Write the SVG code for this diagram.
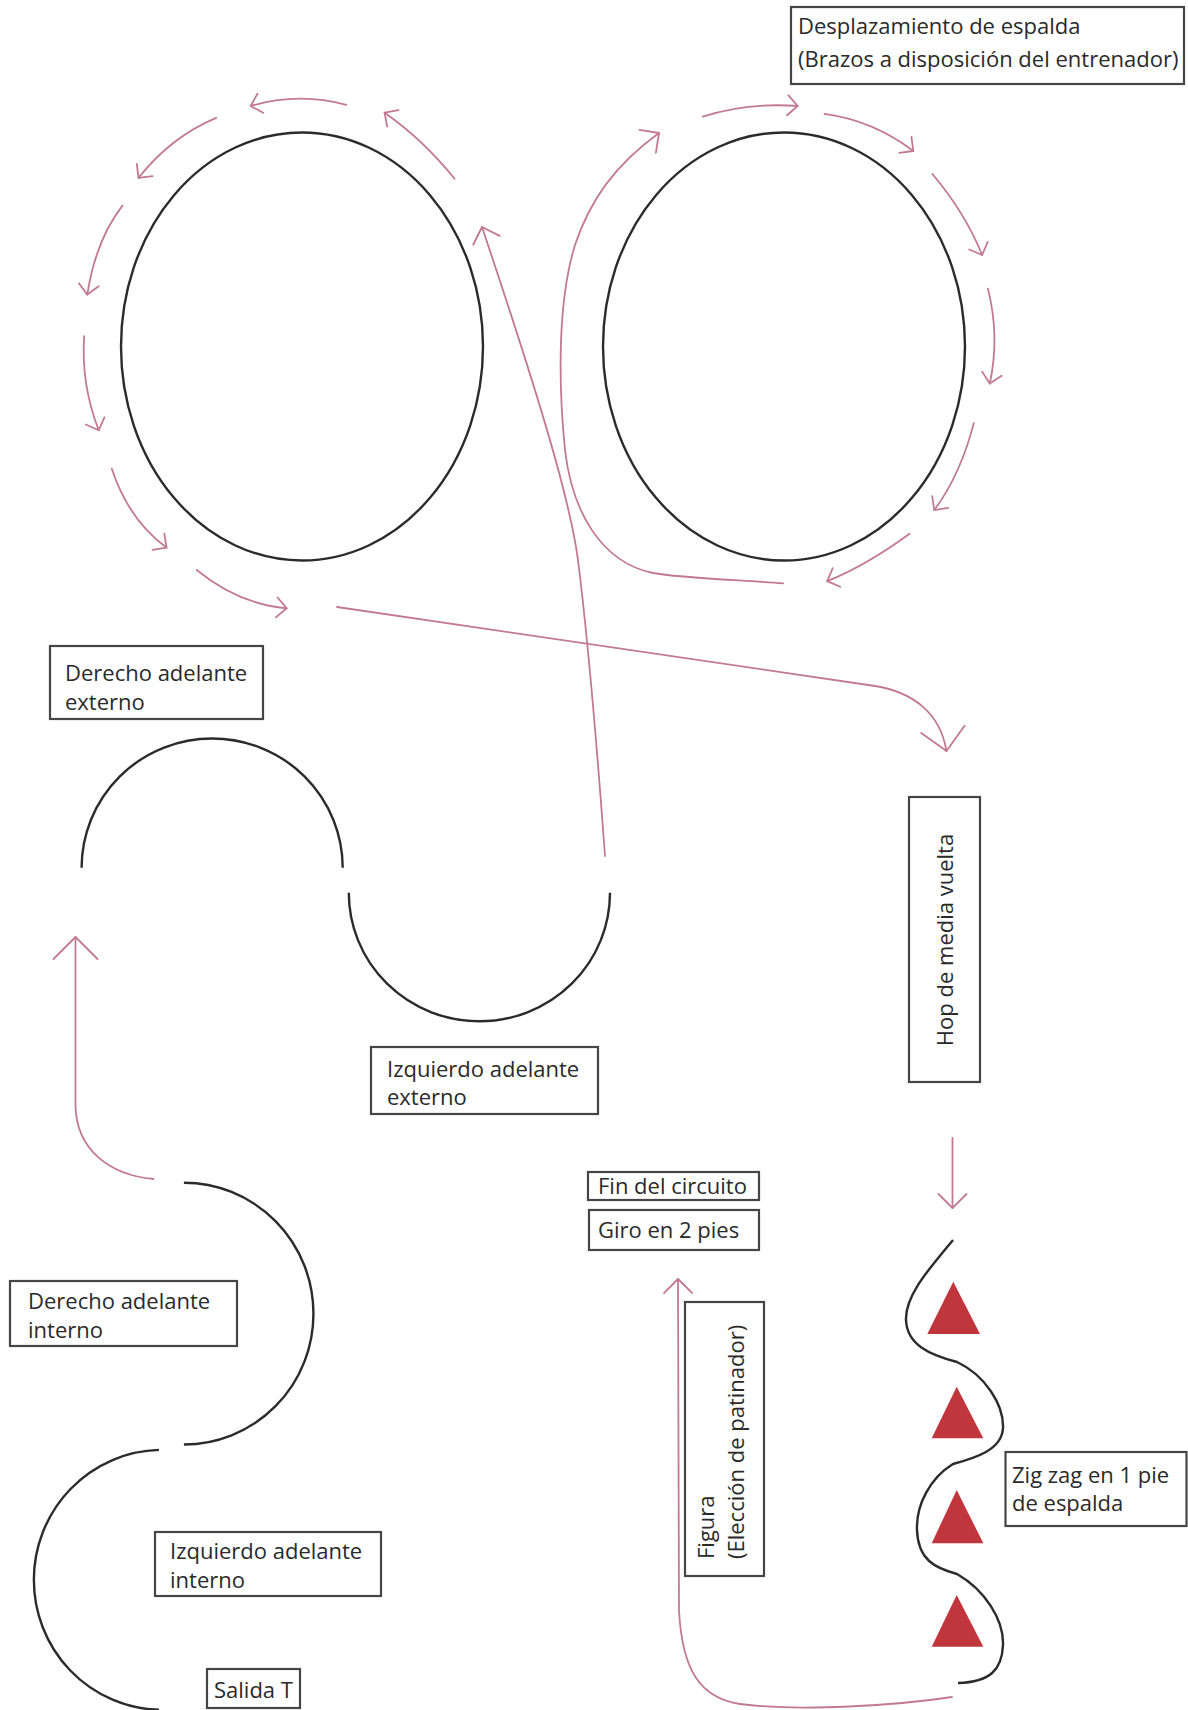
<svg xmlns="http://www.w3.org/2000/svg" width="1188" height="1710" viewBox="0 0 1188 1710">
<style>
.ln{fill:none;stroke:#2b2b2b;stroke-width:2.4}
.box{fill:#fff;stroke:#454545;stroke-width:2.2}
.t{font-family:"Open Sans","Noto Sans","Liberation Sans",sans-serif;font-size:22px;fill:#2a2a2a}
.pk{fill:none;stroke:#c27a90;stroke-width:1.8;stroke-linecap:round}
.tri{fill:#c1363d}
.s{marker-end:url(#ahS)}
.m{marker-end:url(#ahM)}
.l{marker-end:url(#ahL)}
</style>
<defs>
<marker id="ahS" viewBox="0 0 10 20" refX="10" refY="10" markerWidth="10" markerHeight="20" markerUnits="userSpaceOnUse" orient="auto" overflow="visible"><path d="M0,0 L10,10 L0,20" fill="none" stroke="#c27a90" stroke-width="1.8" stroke-linecap="round" stroke-linejoin="round"/></marker>
<marker id="ahM" viewBox="0 0 10 20" refX="10" refY="10" markerWidth="14" markerHeight="28" markerUnits="userSpaceOnUse" orient="auto" overflow="visible"><path d="M0,0 L10,10 L0,20" fill="none" stroke="#c27a90" stroke-width="1.3" stroke-linecap="round" stroke-linejoin="round"/></marker>
<marker id="ahL" viewBox="0 0 10 20" refX="10" refY="10" markerWidth="22" markerHeight="44" markerUnits="userSpaceOnUse" orient="auto" overflow="visible"><path d="M0,0 L10,10 L0,20" fill="none" stroke="#c27a90" stroke-width="0.82" stroke-linecap="round" stroke-linejoin="round"/></marker>
</defs>
<rect width="1188" height="1710" fill="#fff"/>

<g id="connectors">
<!-- around left ellipse -->
<path class="pk s" d="M346.3,104.8 Q298.6,92 250.7,106"/>
<path class="pk s" d="M216.2,117.8 Q170.8,136.8 138.5,177.9"/>
<path class="pk s" d="M122.5,205.6 Q95.7,240 87.3,294.6"/>
<path class="pk s" d="M84.2,336.1 Q80.8,383.8 98.7,430.2"/>
<path class="pk s" d="M111.7,468.5 Q128.7,520 166.5,547.6"/>
<path class="pk s" d="M196.7,570 Q238.3,604 286.7,608.3"/>
<path class="pk s" d="M454.6,178.7 Q422.4,138.9 384.6,112.7"/>
<!-- around right ellipse -->
<path class="pk s" d="M702.8,116.6 Q747.2,102.3 797.7,106"/>
<path class="pk s" d="M824.5,113.9 Q873.5,120.6 913.3,151"/>
<path class="pk s" d="M932.4,174 Q964.9,212.5 982.2,255"/>
<path class="pk s" d="M987.9,288.6 Q1000,336.2 989.8,383.5"/>
<path class="pk s" d="M973.8,423.1 Q960.6,474.4 934.3,510.1"/>
<path class="pk s" d="M909.5,533.8 Q866.4,565.5 827.2,581.2"/>
<!-- right ellipse bottom to top -->
<path class="pk m" d="M783.3,583.3 C740,580 680,578 653,573 C600,562 572,510 565,450 C558,380 558,300 575,245 C590,200 615,165 659,133"/>
<!-- from lower arc end up to left ellipse -->
<path class="pk m" d="M605,856 C598,760 588,640 578,560 C570,500 540,400 482,227"/>
<!-- to Hop -->
<path class="pk l" d="M337,607 L875,686 C912,692 940,712 946.5,751"/>
<!-- Hop down to zigzag -->
<path class="pk m" d="M952.5,1138 L952.5,1208"/>
<!-- left vertical up -->
<path class="pk l" d="M153.5,1179 C110,1175 76,1150 75.5,1105 L75.5,937"/>
<!-- bottom to Giro -->
<path class="pk m" d="M952,1697 C900,1705 800,1712 740,1704 C700,1698 682,1670 679,1610 L678,1279"/>
</g>

<g id="circle-left"><ellipse class="ln" cx="302" cy="346.5" rx="181" ry="214"/></g>
<g id="circle-right"><ellipse class="ln" cx="784" cy="346.5" rx="181" ry="214"/></g>

<g id="label-desplazamiento">
<rect class="box" x="791" y="7" width="393" height="77"/>
<text class="t" x="798" y="34">Desplazamiento de espalda</text>
<text class="t" x="798" y="67">(Brazos a disposición del entrenador)</text>
</g>

<g id="arc-derecho-externo"><path class="ln" d="M81.6,867.8 A130.5,129.3 0 0 1 342.7,867.8"/></g>
<g id="label-derecho-externo">
<rect class="box" x="50" y="646" width="213" height="73"/>
<text class="t" x="65" y="681">Derecho adelante</text>
<text class="t" x="65" y="710">externo</text>
</g>

<g id="arc-izquierdo-externo"><path class="ln" d="M348.8,892.8 A130.6,128.5 0 0 0 610,892.8"/></g>
<g id="label-izquierdo-externo">
<rect class="box" x="371" y="1047" width="227" height="67"/>
<text class="t" x="387" y="1077">Izquierdo adelante</text>
<text class="t" x="387" y="1105">externo</text>
</g>

<g id="label-hop">
<rect class="box" x="909" y="797" width="71" height="285"/>
<text class="t" transform="translate(953,940) rotate(-90)" text-anchor="middle">Hop de media vuelta</text>
</g>

<g id="arc-derecho-interno"><path class="ln" d="M183.9,1182.8 A129.5,130.8 0 0 1 183.9,1444.5"/></g>
<g id="label-derecho-interno">
<rect class="box" x="10" y="1281" width="227" height="65"/>
<text class="t" x="28" y="1309">Derecho adelante</text>
<text class="t" x="28" y="1338">interno</text>
</g>

<g id="arc-izquierdo-interno"><path class="ln" d="M158.9,1449.9 A128.6,130 0 0 0 158.9,1709.8"/></g>
<g id="label-izquierdo-interno">
<rect class="box" x="155" y="1532" width="226" height="64"/>
<text class="t" x="170" y="1559">Izquierdo adelante</text>
<text class="t" x="170" y="1588">interno</text>
</g>

<g id="label-salida">
<rect class="box" x="207" y="1669" width="93" height="39"/>
<text class="t" x="214" y="1698">Salida T</text>
</g>

<g id="label-fin">
<rect class="box" x="588" y="1172" width="171" height="28"/>
<text class="t" x="598" y="1194">Fin del circuito</text>
</g>

<g id="label-giro">
<rect class="box" x="589" y="1210" width="170" height="40"/>
<text class="t" x="598" y="1238">Giro en 2 pies</text>
</g>

<g id="label-figura">
<rect class="box" x="685" y="1302" width="79" height="274"/>
<text class="t" transform="translate(714,1559) rotate(-90)">Figura</text>
<text class="t" transform="translate(744,1559) rotate(-90)">(Elección de patinador)</text>
</g>

<g id="zigzag">
<path class="ln" d="M953,1240 C930,1268 905,1295 906,1320 C907,1345 930,1355 957,1362 C985,1375 1004,1405 1003,1428 C1002,1450 975,1458 953,1464 C930,1478 916,1505 917,1530 C918,1560 935,1568 957,1574 C985,1590 1004,1620 1003,1645 C1002,1670 990,1682 958,1683"/>
</g>
<g id="cone-1"><polygon class="tri" points="953.3,1281.7 927.3,1334 980,1334"/></g>
<g id="cone-2"><polygon class="tri" points="956.7,1386.7 931.7,1438.3 983.3,1438.3"/></g>
<g id="cone-3"><polygon class="tri" points="956.7,1490 931.7,1543.3 983.3,1543.3"/></g>
<g id="cone-4"><polygon class="tri" points="956.7,1595 931.7,1646.7 983.3,1646.7"/></g>

<g id="label-zigzag">
<rect class="box" x="1005.5" y="1452" width="181" height="74"/>
<text class="t" x="1012" y="1483">Zig zag en 1 pie</text>
<text class="t" x="1012" y="1511">de espalda</text>
</g>
</svg>
